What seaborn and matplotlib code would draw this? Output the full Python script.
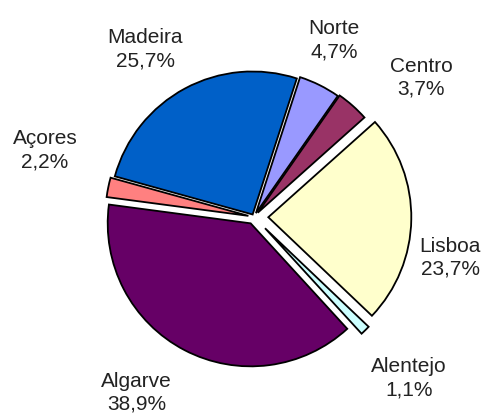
import numpy as np
import matplotlib
matplotlib.use("Agg")
import matplotlib.pyplot as plt
import seaborn as sns

sns.set_theme(style="white")
plt.rcParams['font.family'] = ['Liberation Sans', 'DejaVu Sans']

regions = ["Norte", "Centro", "Lisboa", "Alentejo", "Algarve", "Açores", "Madeira"]
values = [4.7, 3.7, 23.7, 1.1, 38.9, 2.2, 25.7]
pct_labels = ["4,7%", "3,7%", "23,7%", "1,1%", "38,9%", "2,2%", "25,7%"]
colors = ["#9999FF", "#993366", "#FFFFCC", "#CCFFFF", "#660066", "#FF8080", "#0060C8"]
explode = [0.03, 0.04, 0.10, 0.11, 0.05, 0.04, 0.02]

# label placement (radius, angle offset in degrees) per slice
label_r = [1.364, 1.524, 1.399, 1.558, 1.472, 1.537, 1.406]
label_dang = [2.3, -8.4, -10.6, -0.4, -6.3, -6.5, 4.5]

W, H = 485, 414
cx, cy, R = 254, 218, 143

fig = plt.figure(figsize=(W / 100, H / 100), dpi=100)
ax = fig.add_axes([0, 0, 1, 1])

wedges, _ = ax.pie(values, colors=colors, explode=explode, startangle=72,
                   counterclock=False, radius=1,
                   wedgeprops=dict(edgecolor="black", linewidth=1.3))

ax.set_aspect("auto")
ax.set_xlim(-cx / R, (W - cx) / R)
ax.set_ylim(-(H - cy) / R, cy / R)
ax.axis("off")

for w, name, p, r, da in zip(wedges, regions, pct_labels, label_r, label_dang):
    mid = np.deg2rad((w.theta1 + w.theta2) / 2 + da)
    ax.text(r * np.cos(mid), r * np.sin(mid), f"{name}\n{p}",
            ha="center", va="center", fontsize=15, color="#222222",
            linespacing=1.28, clip_on=False)

fig.savefig("out.png", dpi=100)
